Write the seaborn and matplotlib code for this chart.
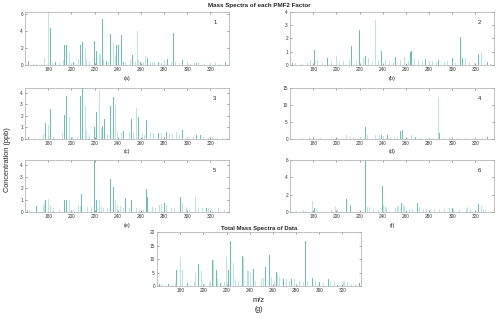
import matplotlib
matplotlib.use('Agg')
import matplotlib.pyplot as plt
import seaborn as sns

DARK = '#6dbdb7'
LIGHT = '#bde4e1'

# factor 1  (a)
a_dark_mz = [163, 182, 186, 194, 196, 202, 208, 210, 220, 222, 227, 230, 234, 239, 241, 243, 245, 248, 253, 260, 266, 275, 283, 288, 296, 308, 333]
a_dark = [0.43, 4.35, 0.3, 2.4, 2.35, 0.3, 2.3, 2.75, 2.8, 1.6, 5.4, 0.5, 3.65, 2.4, 2.4, 3.55, 0.4, 0.8, 1.2, 0.4, 0.8, 0.3, 0.7, 3.75, 0.6, 0.25, 0.35]
a_light_mz = [167, 170, 174, 177, 180, 184, 190, 193, 198, 200, 206, 212, 213, 216, 224, 225, 228, 232, 236, 238, 247, 251, 255, 257, 258, 262, 264, 268, 270, 272, 278, 280, 286, 290, 293, 300, 303, 306, 310, 315, 320, 324, 328]
a_light = [0.1, 0.15, 0.1, 0.8, 6.2, 0.2, 0.2, 0.6, 1.5, 0.2, 0.7, 1.9, 0.7, 0.3, 1.4, 1.2, 0.6, 0.4, 2.6, 1.2, 0.3, 0.6, 0.3, 4.0, 0.6, 0.3, 1.0, 0.3, 0.4, 0.3, 0.2, 0.6, 0.3, 0.4, 0.2, 0.3, 0.15, 0.25, 0.3, 0.15, 0.1, 0.3, 0.15]

# factor 2  (b)
b_dark_mz = [162, 181, 192, 213, 220, 225, 239, 251, 264, 265, 277, 288, 300, 307, 309, 323, 330]
b_dark = [0.15, 1.15, 0.5, 1.45, 2.65, 0.7, 1.05, 0.6, 1.0, 1.05, 0.45, 0.35, 0.5, 2.1, 0.55, 0.8, 0.2]
b_light_mz = [165, 170, 175, 178, 184, 188, 196, 200, 203, 206, 211, 217, 223, 228, 231, 234, 236, 242, 246, 249, 255, 259, 262, 267, 271, 274, 280, 283, 286, 293, 296, 303, 311, 315, 319, 325, 333]
b_light = [0.15, 0.1, 0.15, 0.4, 0.4, 0.15, 0.3, 0.7, 0.2, 0.3, 0.4, 0.4, 0.5, 0.5, 0.3, 3.4, 0.4, 0.4, 0.3, 0.2, 0.4, 0.6, 0.3, 0.5, 0.35, 0.2, 0.3, 0.3, 0.2, 0.2, 0.3, 0.15, 0.5, 0.2, 0.15, 1.0, 0.1]

# factor 3  (c)
c_dark_mz = [163, 178, 182, 194, 196, 208, 210, 220, 222, 227, 229, 234, 236, 245, 248, 252, 258, 265, 275, 282, 296, 308, 311]
c_dark = [0.15, 1.35, 2.6, 2.05, 3.7, 3.75, 4.4, 1.0, 2.35, 1.1, 1.75, 2.85, 3.6, 0.7, 1.5, 1.75, 1.9, 1.6, 0.55, 0.6, 0.8, 0.3, 0.35]
c_light_mz = [168, 176, 180, 185, 192, 198, 201, 205, 212, 213, 216, 224, 226, 231, 238, 240, 243, 250, 254, 256, 261, 263, 268, 271, 278, 285, 287, 291, 293, 300, 305, 314, 318, 322, 326, 330, 334]
c_light = [0.1, 0.4, 1.2, 0.15, 0.5, 1.9, 0.2, 0.2, 2.85, 0.75, 0.3, 4.2, 0.9, 0.4, 2.9, 0.6, 0.5, 0.6, 0.5, 2.7, 0.5, 0.3, 0.6, 0.5, 0.55, 0.4, 0.4, 0.6, 0.3, 0.2, 0.2, 0.15, 0.1, 0.15, 0.1, 0.1, 0.1]

# factor 4  (d)
d_dark_mz = [180, 225, 239, 244, 255, 257, 268, 289, 330]
d_dark = [0.6, 3.4, 1.1, 1.0, 2.4, 2.6, 0.6, 1.7, 0.5]
d_light_mz = [170, 177, 186, 196, 201, 209, 212, 215, 221, 227, 234, 237, 241, 247, 250, 253, 261, 265, 273, 280, 284, 288, 293, 298, 305, 312, 320, 326]
d_light = [0.15, 0.5, 0.15, 0.3, 0.3, 1.2, 0.5, 0.5, 0.3, 1.2, 1.2, 1.0, 0.9, 0.3, 0.5, 0.5, 0.3, 1.0, 0.4, 0.5, 0.4, 12.3, 0.3, 0.3, 0.2, 0.2, 0.3, 0.2]

# factor 5  (e)
e_dark_mz = [162, 170, 178, 194, 196, 209, 220, 222, 234, 236, 247, 252, 265, 266, 280, 292, 294, 317]
e_dark = [0.2, 0.55, 1.0, 1.05, 1.0, 1.5, 4.4, 1.0, 2.8, 2.15, 1.15, 1.0, 1.95, 1.3, 0.8, 0.9, 1.25, 0.35]
e_light_mz = [164, 176, 177, 180, 182, 185, 190, 198, 202, 206, 208, 214, 217, 224, 226, 228, 231, 238, 240, 242, 245, 250, 256, 259, 262, 270, 273, 276, 278, 282, 286, 289, 296, 299, 302, 307, 310, 313, 318, 322, 327, 332]
e_light = [0.2, 0.55, 0.75, 1.1, 0.55, 0.3, 0.15, 1.0, 0.2, 0.6, 0.55, 0.4, 0.45, 1.0, 0.4, 0.35, 0.3, 1.05, 0.6, 0.5, 0.3, 0.3, 0.3, 0.25, 0.2, 0.4, 0.3, 0.6, 0.7, 0.6, 0.3, 0.3, 0.8, 0.4, 0.2, 1.25, 0.3, 0.35, 0.3, 0.2, 0.3, 0.15]

# factor 6  (f)
f_dark_mz = [181, 209, 212, 225, 240, 256, 270, 300, 323]
f_dark = [0.5, 1.45, 0.85, 6.0, 3.0, 1.0, 1.0, 0.5, 0.95]
f_light_mz = [166, 172, 179, 184, 196, 199, 201, 204, 227, 229, 232, 236, 241, 242, 243, 251, 253, 254, 258, 259, 263, 266, 272, 275, 278, 281, 285, 289, 293, 298, 301, 306, 312, 313, 316, 325, 327, 329]
f_light = [0.15, 0.2, 1.25, 0.2, 0.2, 0.65, 0.4, 0.2, 0.6, 0.55, 0.3, 0.2, 0.85, 0.65, 0.5, 0.5, 0.7, 0.7, 0.85, 0.75, 0.3, 0.35, 0.6, 0.4, 0.3, 0.3, 0.3, 0.35, 0.4, 0.5, 0.3, 0.2, 0.3, 0.55, 0.3, 0.75, 0.4, 0.2]

# total  (g)
g_dark_mz = [162, 170, 177, 186, 196, 208, 211, 215, 222, 223, 234, 243, 248, 254, 257, 263, 269, 276, 288, 294, 300, 308, 316, 335]
g_dark = [0.6, 0.6, 6.1, 1.0, 8.1, 9.5, 6.1, 1.0, 6.1, 16.7, 11.0, 6.5, 4.6, 7.0, 11.5, 5.3, 2.5, 2.5, 16.7, 3.0, 1.5, 2.8, 0.5, 1.2]
g_light_mz = [164, 173, 176, 180, 182, 189, 192, 193, 198, 201, 205, 206, 209, 212, 218, 220, 226, 228, 230, 235, 238, 239, 241, 245, 250, 252, 259, 261, 264, 266, 272, 274, 279, 283, 286, 290, 297, 304, 310, 313, 321, 322, 324, 328, 331]
g_light = [0.8, 0.4, 1.0, 10.8, 6.1, 0.5, 1.5, 5.0, 5.5, 0.8, 1.2, 2.0, 9.5, 3.0, 1.5, 10.9, 8.5, 2.5, 2.0, 10.4, 5.9, 5.5, 5.0, 2.0, 2.5, 3.0, 3.5, 2.0, 4.5, 3.5, 2.5, 2.0, 2.5, 2.0, 1.5, 2.0, 2.0, 1.0, 2.0, 1.5, 2.0, 1.8, 1.5, 0.8, 0.6]

sns.set_theme(style='ticks')
plt.rcParams['font.family'] = ['Liberation Sans', 'DejaVu Sans']

fig = plt.figure(figsize=(5, 3.2), dpi=100)
fig.patch.set_facecolor('white')

def draw(rect, dark_mz, dark, light_mz, light, ytop, ystep, num, tag):
    ax = fig.add_axes(rect)
    sns.histplot(x=light_mz, weights=light, discrete=True, shrink=0.85, color=LIGHT,
                 alpha=1, linewidth=0, ax=ax)
    sns.histplot(x=dark_mz, weights=dark, discrete=True, shrink=0.85, color=DARK,
                 alpha=1, linewidth=0, ax=ax)
    ax.set_xlim(160, 336)
    ax.set_ylim(0, ytop)
    ax.set_xticks(range(180, 321, 20))
    yt = [ystep * i for i in range(int(ytop / ystep + 1e-6) + 1)]
    ax.set_yticks(yt)
    ax.set_yticklabels([f'{v:g}' for v in yt])
    ax.set_xlabel('')
    ax.set_ylabel('')
    ax.tick_params(direction='in', length=1.5, width=0.4, labelsize=3.4, pad=1.5,
                   top=True, right=True, color='#555555', labelcolor='#333333')
    for s in ax.spines.values():
        s.set_linewidth(0.5)
        s.set_color('#aaaaaa')
    ax.text(0.93, 0.8, num, transform=ax.transAxes, fontsize=4.2, ha='center', va='center')
    ax.text(0.5, -0.25, tag, transform=ax.transAxes, fontsize=4, ha='center', va='center')
    return ax

L1, L2, W = 0.05, 0.58, 0.408
draw([L1, 0.797, W, 0.166], a_dark_mz, a_dark, a_light_mz, a_light, 6.25, 2, '1', '(a)')
draw([L2, 0.797, W, 0.166], b_dark_mz, b_dark, b_light_mz, b_light, 4, 1, '2', '(b)')
draw([L1, 0.566, W, 0.159], c_dark_mz, c_dark, c_light_mz, c_light, 4.4, 1, '3', '(c)')
draw([L2, 0.566, W, 0.159], d_dark_mz, d_dark, d_light_mz, d_light, 15, 5, '4', '(d)')
draw([L1, 0.3375, W, 0.1625], e_dark_mz, e_dark, e_light_mz, e_light, 4.4, 1, '5', '(e)')
draw([L2, 0.3375, W, 0.1625], f_dark_mz, f_dark, f_light_mz, f_light, 6, 2, '6', '(f)')
axg = draw([0.314, 0.106, W, 0.169], g_dark_mz, g_dark, g_light_mz, g_light, 20, 5, '', '')
axg.set_title('Total Mass Spectra of Data', fontsize=4.3, fontweight='bold', pad=1.5)
axg.text(0.5, -0.26, 'm/z', transform=axg.transAxes, fontsize=5.5, ha='center', va='center')
axg.text(0.5, -0.43, '(g)', transform=axg.transAxes, fontsize=5, ha='center', va='center')

fig.text(0.518, 0.984, 'Mass Spectra of each PMF2 Factor', fontsize=4.5, fontweight='bold',
         ha='center', va='center')
fig.text(0.016, 0.5, 'Concentration (ppb)', fontsize=5.3, rotation=90, ha='center', va='center')

fig.savefig('out.png', dpi=100, facecolor='white')
